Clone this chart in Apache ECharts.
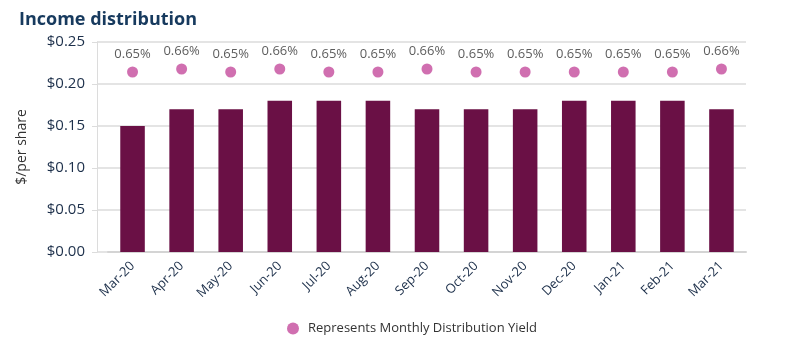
<!DOCTYPE html>
<html>
<head>
<meta charset="utf-8">
<script src="https://cdn.jsdelivr.net/npm/echarts@6/dist/echarts.min.js"></script>
<style>
  html, body { margin: 0; padding: 0; background: #fff; }
  #chart { width: 791px; height: 352px; }
</style>
</head>
<body>
<div id="chart"></div>
<script>
let months = ["Mar-20","Apr-20","May-20","Jun-20","Jul-20","Aug-20","Sep-20","Oct-20","Nov-20","Dec-20","Jan-21","Feb-21","Mar-21"];
let distribution = [0.15, 0.17, 0.17, 0.18, 0.18, 0.18, 0.17, 0.17, 0.17, 0.18, 0.18, 0.18, 0.17];
let yieldPct = [0.65, 0.66, 0.65, 0.66, 0.65, 0.65, 0.66, 0.65, 0.65, 0.65, 0.65, 0.65, 0.66];

let chartDom = document.getElementById("chart");
let myChart = echarts.init(chartDom);

let font = "'Open Sans', sans-serif";
let navy = "#1c2f4a";

// grid 0 = bars/dots, grid 1 = the wider frame with gridlines and $ labels
let option = {
  animation: false,
  title: {
    text: "Income distribution",
    left: 14,
    top: 6,
    textStyle: { fontFamily: font, fontSize: 18, fontWeight: "bold", color: "#173a5e" }
  },
  legend: {
    bottom: 12,
    left: 282,
    itemWidth: 12,
    itemHeight: 12,
    data: [{ name: "Represents Monthly Distribution Yield", icon: "circle" }],
    textStyle: { fontFamily: font, fontSize: 13, color: "#333", padding: [0, 0, 0, 4] }
  },
  grid: [
    { left: 108, right: 45, top: 42, bottom: 100 },
    { left: 97, right: 45, top: 42, bottom: 100 }
  ],
  xAxis: [
    {
      type: "category",
      gridIndex: 0,
      data: months,
      axisLine: { lineStyle: { color: "#d4d4d4", width: 2 } },
      axisTick: { show: false },
      axisLabel: {
        rotate: 45,
        margin: 12,
        fontFamily: font,
        fontSize: 13,
        color: navy
      }
    },
    {
      type: "value",
      gridIndex: 1,
      show: false
    }
  ],
  yAxis: [
    {
      type: "value",
      gridIndex: 0,
      min: 0,
      max: 0.25,
      interval: 0.05,
      show: false
    },
    {
      type: "value",
      gridIndex: 0,
      min: 0.05,
      max: 0.75,
      show: false
    },
    {
      type: "value",
      gridIndex: 1,
      min: 0,
      max: 0.25,
      interval: 0.05,
      name: "$/per share",
      nameLocation: "middle",
      nameGap: 68,
      nameTextStyle: { fontFamily: font, fontSize: 14, color: "#333" },
      axisLine: { show: true, lineStyle: { color: "#dcdcdc" } },
      splitLine: { lineStyle: { color: "#e4e4e4", width: 2 } },
      axisLabel: {
        margin: 12,
        fontFamily: font,
        fontSize: 15,
        color: navy,
        formatter: function (v) { return "$" + v.toFixed(2); }
      }
    }
  ],
  series: [
    {
      name: "Distribution",
      type: "bar",
      xAxisIndex: 0,
      yAxisIndex: 0,
      data: distribution,
      barWidth: "50%",
      z: 3,
      itemStyle: { color: "#6a1045" }
    },
    {
      name: "Represents Monthly Distribution Yield",
      type: "scatter",
      xAxisIndex: 0,
      yAxisIndex: 1,
      data: yieldPct,
      symbolSize: 11,
      z: 4,
      itemStyle: { color: "#c44b9c" },
      label: {
        show: true,
        position: "top",
        distance: 6,
        fontFamily: font,
        fontSize: 13,
        color: "#333",
        formatter: function (p) { return p.value.toFixed(2) + "%"; }
      }
    }
  ]
};

myChart.setOption(option);
</script>
</body>
</html>
